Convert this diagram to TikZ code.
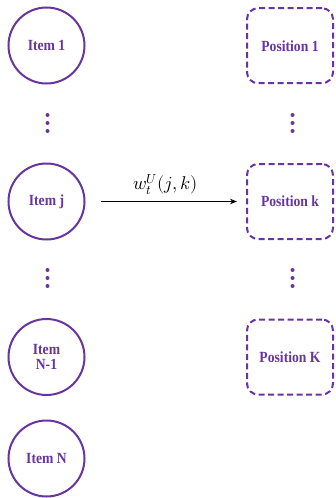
\documentclass[tikz,border=0pt]{standalone}
\usepackage{fontspec}
\setmainfont{Liberation Serif}[FakeStretch=0.88]
\usepackage{unicode-math}
\setmathfont{Latin Modern Math}
\usetikzlibrary{arrows.meta}
\definecolor{vio}{RGB}{104,52,160}
\tikzset{
  item/.style={circle, draw=vio, line width=2pt, minimum size=76pt, inner sep=0pt, text=vio, font=\fontsize{15.5}{15}\selectfont\bfseries, align=center},
  posbox/.style={rectangle, rounded corners=11pt, draw=vio, line width=2pt, dash pattern=on 6pt off 3.5pt, minimum width=86pt, minimum height=75pt, text=vio, font=\fontsize{15.5}{16}\selectfont\bfseries},
  vdot/.style={circle, fill=vio, inner sep=0pt, minimum size=4pt},
}
\begin{document}
\begin{tikzpicture}[x=1pt,y=-1pt]
\useasboundingbox (0,0) rectangle (335,498);
\node[item] (i1) at (46.5,45.5) {Item 1};
\node[item] (ij) at (46.5,201.5) {Item j};
\node[item] (in1) at (46.5,357) {Item\\N-1};
\node[item] (in) at (46.5,458.5) {Item N};
\node[posbox] (p1) at (290,45.7) {Position 1};
\node[posbox] (pk) at (290,201.5) {Position k};
\node[posbox] (pK) at (290,357) {Position K};
\foreach \x/\n in {47.5/l, 292.5/r}{
  \foreach \y/\m in {115/a1,123/a2,131/a3,270/b1,278/b2,286/b3}{
    \node[vdot] (d\n\m) at (\x,\y) {};
  }
}
\draw[line width=1.1pt, -{Stealth[length=7pt,width=5.5pt]}, shorten <=15pt, shorten >=9pt] (ij) -- node[above=3pt, font=\fontsize{18.5}{18.5}\selectfont] {$w_t^U(j,k)$} (pk);
\end{tikzpicture}
\end{document}
